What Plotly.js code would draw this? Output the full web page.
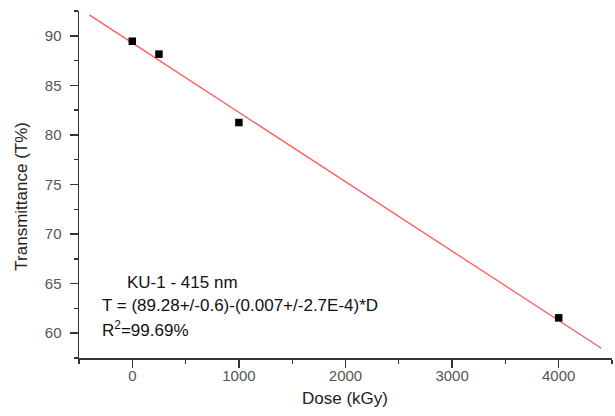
<!DOCTYPE html>
<html>
<head>
<meta charset="utf-8">
<script src="https://cdn.plot.ly/plotly-3.0.1.min.js"></script>
<style>html,body{margin:0;padding:0;background:#fff;}#chart{width:615px;height:416px;}</style>
</head>
<body>
<div id="chart"></div>
<script>
// Measured data
const doseKGy = [0, 250, 1000, 4000];
const transmittance = [89.45, 88.15, 81.25, 61.55];
// Linear fit line endpoints (as drawn)
const fitDose = [-400, 4400];
const fitT = [92.08, 58.48];
// Texts
const labelLines = ["KU-1 - 415 nm", "T = (89.28+/-0.6)-(0.007+/-2.7E-4)*D", "R<sup>2</sup>=99.69%"];
const xTitle = "Dose (kGy)";
const yTitle = "Transmittance (T%)";
const xTicks = [0, 1000, 2000, 3000, 4000];
const yTicks = [60, 65, 70, 75, 80, 85, 90];

const font = "Liberation Sans, Arial, sans-serif";
const L = 79, R = 612, T = 11, B = 357.7;
const px = v => (v - L) / (R - L);
const py = v => (B - v) / (B - T);

const traces = [
  {x: fitDose, y: fitT, mode: "lines", type: "scatter",
   line: {color: "#ff5a5a", width: 1.3}, hoverinfo: "skip"},
  {x: doseKGy, y: transmittance, mode: "markers", type: "scatter",
   marker: {symbol: "square", size: 7.5, color: "#000"}}
];

const axisCommon = {
  showgrid: false, zeroline: false, showline: true, linecolor: "#333", linewidth: 1.5,
  ticks: "outside", ticklen: 8, tickwidth: 1.5, tickcolor: "#333",
  tickfont: {family: font, size: 15, color: "#555"},
  minor: {ticks: "outside", ticklen: 4, tickwidth: 1.3, tickcolor: "#333"}
};

const layout = {
  width: 615, height: 416,
  margin: {l: L, r: 615 - R, t: T, b: 416 - B},
  paper_bgcolor: "#fff", plot_bgcolor: "#fff",
  showlegend: false,
  xaxis: Object.assign({}, axisCommon, {
    range: [-500, 4500], tickvals: xTicks, ticktext: xTicks.map(String),
    minor: Object.assign({}, axisCommon.minor, {tickvals: [-500, 500, 1500, 2500, 3500, 4500]}),
    ticklabelstandoff: -5
  }),
  yaxis: Object.assign({}, axisCommon, {
    range: [57.5, 92.5], tickvals: yTicks, ticktext: yTicks.map(String),
    minor: Object.assign({}, axisCommon.minor, {tickvals: [57.5, 62.5, 67.5, 72.5, 77.5, 82.5, 87.5, 92.5]}),
    ticklabelstandoff: 5
  }),
  annotations: [
    {xref: "paper", yref: "paper", x: px(125), y: py(282), xanchor: "left", yanchor: "middle",
     text: labelLines[0], showarrow: false, font: {family: font, size: 17, color: "#111"}},
    {xref: "paper", yref: "paper", x: px(100), y: py(305), xanchor: "left", yanchor: "middle",
     text: labelLines[1], showarrow: false, font: {family: font, size: 17, color: "#111"}},
    {xref: "paper", yref: "paper", x: px(100), y: py(329), xanchor: "left", yanchor: "middle",
     text: labelLines[2], showarrow: false, font: {family: font, size: 17, color: "#111"}},
    {xref: "paper", yref: "paper", x: px(345), y: py(398), xanchor: "center", yanchor: "middle",
     text: xTitle, showarrow: false, font: {family: font, size: 17, color: "#222"}},
    {xref: "paper", yref: "paper", x: px(21.5), y: py(196), xanchor: "center", yanchor: "middle",
     text: yTitle, textangle: -90, showarrow: false, font: {family: font, size: 17, color: "#222"}}
  ]
};

Plotly.newPlot("chart", traces, layout, {displayModeBar: false, staticPlot: true});
</script>
</body>
</html>
